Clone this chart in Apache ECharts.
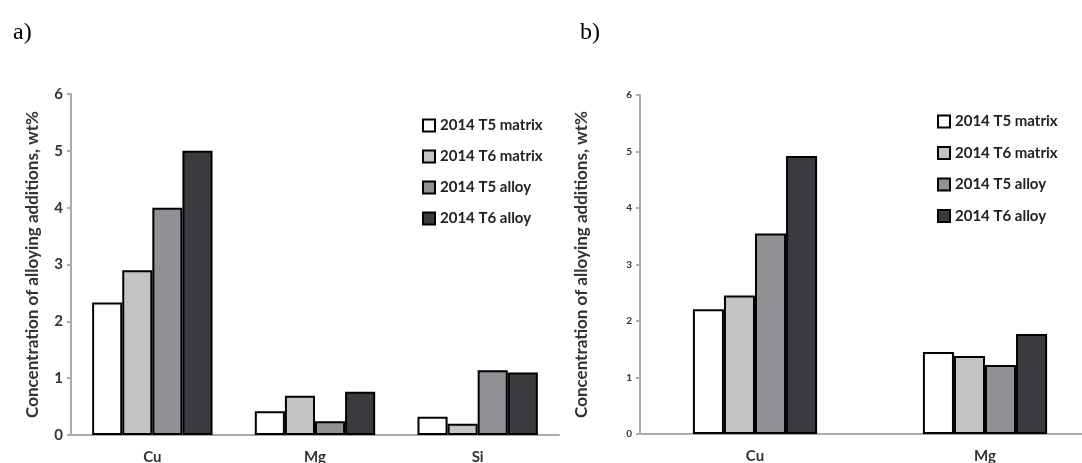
<!DOCTYPE html>
<html>
<head>
<meta charset="utf-8">
<script src="https://cdn.jsdelivr.net/npm/echarts@6/dist/echarts.min.js"></script>
<style>
  html, body { margin: 0; padding: 0; background: #fff; }
  #chart { width: 1082px; height: 463px; }
</style>
</head>
<body>
<div id="chart"></div>
<script>
// categories
var catsA = ['Cu', 'Mg', 'Si'];
var catsB = ['Cu', 'Mg'];
// series names
var names = ['2014 T5 matrix', '2014 T6 matrix', '2014 T5 alloy', '2014 T6 alloy'];
// panel a values
var t5MatrixA = [2.33, 0.42, 0.32];
var t6MatrixA = [2.90, 0.69, 0.20];
var t5AlloyA = [4.00, 0.24, 1.14];
var t6AlloyA = [5.00, 0.76, 1.10];
// panel b values
var t5MatrixB = [2.21, 1.45];
var t6MatrixB = [2.45, 1.38];
var t5AlloyB = [3.55, 1.22];
var t6AlloyB = [4.92, 1.77];
// y ticks
var yTicks = [0, 1, 2, 3, 4, 5, 6];

var fills = ['#ffffff', '#c2c3c5', '#8f9195', '#3a3b3e'];
var dataA = [t5MatrixA, t6MatrixA, t5AlloyA, t6AlloyA];
var dataB = [t5MatrixB, t6MatrixB, t5AlloyB, t6AlloyB];

var myChart = echarts.init(document.getElementById('chart'));

var axisColor = '#a3adb5';
var font = 'Lato, "Open Sans", sans-serif';

function makeSeries(data, idx, gap) {
    var list = [];
    for (var i = 0; i < data.length; i++) {
        list.push({
            name: names[i],
            type: 'bar',
            xAxisIndex: idx,
            yAxisIndex: idx,
            data: data[i],
            barGap: '0%',
            barCategoryGap: gap,
            itemStyle: { color: fills[i], borderColor: '#000', borderWidth: 2 },
            emphasis: { disabled: true }
        });
    }
    return list;
}

function yAxis(idx, labelSize) {
    return {
        type: 'value',
        gridIndex: idx,
        min: yTicks[0],
        max: yTicks[yTicks.length - 1],
        interval: 1,
        name: 'Concentration of alloying additions, wt%',
        nameLocation: 'middle',
        nameGap: idx === 0 ? 30 : 50,
        nameTextStyle: { fontFamily: font, fontSize: 17, fontWeight: 'bold', color: '#333' },
        axisLine: { show: true, lineStyle: { color: axisColor, width: 2 } },
        axisTick: { show: true, length: 4, lineStyle: { color: axisColor, width: 2 } },
        axisLabel: { fontFamily: font, fontSize: labelSize, fontWeight: 'bold', color: '#333', margin: 8 },
        splitLine: { show: false }
    };
}

function xAxis(idx, cats) {
    return {
        type: 'category',
        gridIndex: idx,
        data: cats,
        axisLine: { lineStyle: { color: axisColor, width: 2 } },
        axisTick: { show: false },
        axisLabel: { fontFamily: font, fontSize: 15, fontWeight: 'bold', color: '#333', margin: 15 }
    };
}

function legend(left, top, gap) {
    return {
        data: names,
        orient: 'vertical',
        left: left,
        top: top,
        itemWidth: 12,
        itemHeight: 12,
        itemGap: gap,
        itemTextGap: 3,
        icon: 'rect',
        selectedMode: false,
        textStyle: { fontFamily: font, fontSize: 15, fontWeight: 'bold', color: '#222' }
    };
}

var option = {
    animation: false,
    title: [
        { text: 'a)', left: 8, top: 16, textStyle: { fontFamily: '"Liberation Serif", serif', fontSize: 24, fontWeight: 'normal', color: '#000' } },
        { text: 'b)', left: 575, top: 16, textStyle: { fontFamily: '"Liberation Serif", serif', fontSize: 24, fontWeight: 'normal', color: '#000' } }
    ],
    legend: [legend(417, 113, 16), legend(932, 109, 16.5)],
    grid: [
        { left: 71, top: 94, width: 488, bottom: 28, containLabel: false, outerBoundsMode: 'none' },
        { left: 640, top: 95, width: 460, bottom: 29, containLabel: false, outerBoundsMode: 'none' }
    ],
    xAxis: [xAxis(0, catsA), xAxis(1, catsB)],
    yAxis: [yAxis(0, 15), yAxis(1, 10)],
    series: makeSeries(dataA, 0, '26%').concat(makeSeries(dataB, 1, '46%'))
};

myChart.setOption(option);
</script>
</body>
</html>
